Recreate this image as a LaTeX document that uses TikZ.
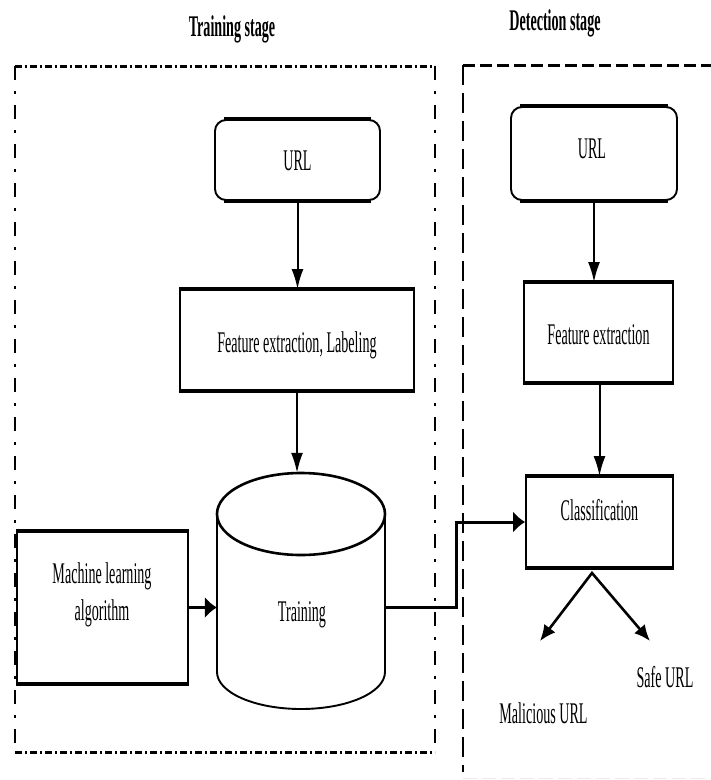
\documentclass[tikz,border=0pt]{standalone}
\usepackage{fontspec}
\setmainfont{Liberation Serif}[FakeStretch=0.47]
\usetikzlibrary{arrows.meta}
\begin{document}
\begin{tikzpicture}[x=1pt,y=-1pt,
  lbl/.style={inner sep=0pt, anchor=base, font=\fontsize{30}{36}\selectfont},
  ttl/.style={inner sep=0pt, anchor=base, font=\fontsize{30}{36}\selectfont\bfseries},
  box/.style={draw, line width=1.9pt, inner sep=0pt},
  rbox/.style={box, rounded corners=11pt},
  hedge/.style={line width=3.2pt},
  thinarrow/.style={line width=2pt, -{Latex[length=20pt,width=12pt]}},
  thickarrow/.style={line width=3pt, -{Latex[length=12pt,width=22pt]}},
  splitarrow/.style={line width=2.6pt, line join=miter, {Latex[length=16pt,width=14pt]}-{Latex[length=16pt,width=14pt]}},
  dashdoth/.style={line width=3pt, dash pattern=on 7pt off 3pt on 2pt off 3pt},
  dashdotv/.style={line width=2pt, dash pattern=on 14pt off 11pt on 3pt off 11pt},
  dashedh/.style={line width=3pt, dash pattern=on 12pt off 5pt},
  dashedv/.style={line width=2pt, dash pattern=on 20pt off 8pt}
]
\useasboundingbox (0,0) rectangle (711,780);
\fill[white] (0,0) rectangle (711,780);

% titles
\node[ttl] (ttrain) at (232,36) {Training stage};
\node[ttl] (tdetect) at (555,30) {Detection stage};

% stage frames
\draw[dashdoth] (15,66) -- (435,66);
\draw[dashdoth] (15,752) -- (435,752);
\draw[dashdotv] (15,66) -- (15,752);
\draw[dashdotv] (435,66) -- (435,752);
\draw[dashedh] (463,65) -- (711,65);
\draw[dashedv] (463,65) -- (463,772);
\draw[line width=1pt, black!8, dash pattern=on 14pt off 5pt] (463,778) -- (711,778);

% training stage
\node[rbox, minimum width=165, minimum height=80] (turl) at (297.5,160) {};
\draw[hedge] ([xshift=10pt]turl.north west) -- ([xshift=-10pt]turl.north east);
\draw[hedge] ([xshift=10pt]turl.south west) -- ([xshift=-10pt]turl.south east);
\node[lbl] (turlt) at (297.5,170) {URL};

\node[box, minimum width=234, minimum height=100] (tfeat) at (297,340) {};
\draw[hedge] (tfeat.north west) -- (tfeat.north east);
\draw[hedge] (tfeat.south west) -- (tfeat.south east);
\node[lbl] (tfeatt) at (297,352) {Feature extraction, Labeling};

\node[inner sep=0pt, minimum width=168, minimum height=236] (cyl) at (301,591) {};
\draw[line width=1.9pt] (217,514) -- (217,672) arc[start angle=180, end angle=0, x radius=84, y radius=37] -- (385,514);
\draw[line width=2.6pt] (301,514) ellipse [x radius=84, y radius=41];
\node[lbl] (cylt) at (302,621) {Training};

\node[box, minimum width=171, minimum height=151] (ml) at (102.5,607.5) {};
\draw[hedge] (ml.north west) -- (ml.north east);
\draw[hedge] (ml.south west) -- (ml.south east);
\node[lbl] (mlt1) at (102,583) {Machine learning};
\node[lbl] (mlt2) at (102,620) {algorithm};

\draw[thinarrow] (turl.south) -- (turl.south |- tfeat.north);
\draw[thinarrow] (tfeat.south) -- (tfeat.south |- cyl.north);
\draw[thickarrow] (ml.east) -- (ml.east -| cyl.west);

% detection stage
\node[rbox, minimum width=166, minimum height=93] (durl) at (594,153.5) {};
\draw[hedge] ([xshift=10pt]durl.north west) -- ([xshift=-10pt]durl.north east);
\draw[hedge] ([xshift=10pt]durl.south west) -- ([xshift=-10pt]durl.south east);
\node[lbl] (durlt) at (592,158) {URL};

\node[box, minimum width=149, minimum height=99] (dfeat) at (598.5,332.5) {};
\draw[hedge] (dfeat.north west) -- (dfeat.north east);
\draw[hedge] (dfeat.south west) -- (dfeat.south east);
\node[lbl] (dfeatt) at (598.5,344) {Feature extraction};

\node[box, minimum width=147, minimum height=90] (cls) at (599.5,522) {};
\draw[hedge] (cls.north west) -- (cls.north east);
\draw[hedge] (cls.south west) -- (cls.south east);
\node[lbl] (clst) at (599.5,520) {Classification};

\draw[thinarrow] (durl.south) -- (durl.south |- dfeat.north);
\draw[thinarrow] (cls.north |- dfeat.south) -- (cls.north);

\coordinate (jog) at (456,560);
\draw[thickarrow] (cyl.east |- ml.east) -| (jog) |- (cls.west);

\coordinate (split) at (592,573);
\coordinate (malend) at (540,641);
\coordinate (safeend) at (650,641);
\draw[splitarrow] (malend) -- (split) -- (safeend);

\node[lbl] (safet) at (665,687) {Safe URL};
\node[lbl] (malt) at (543.5,723) {Malicious URL};
\end{tikzpicture}
\end{document}
